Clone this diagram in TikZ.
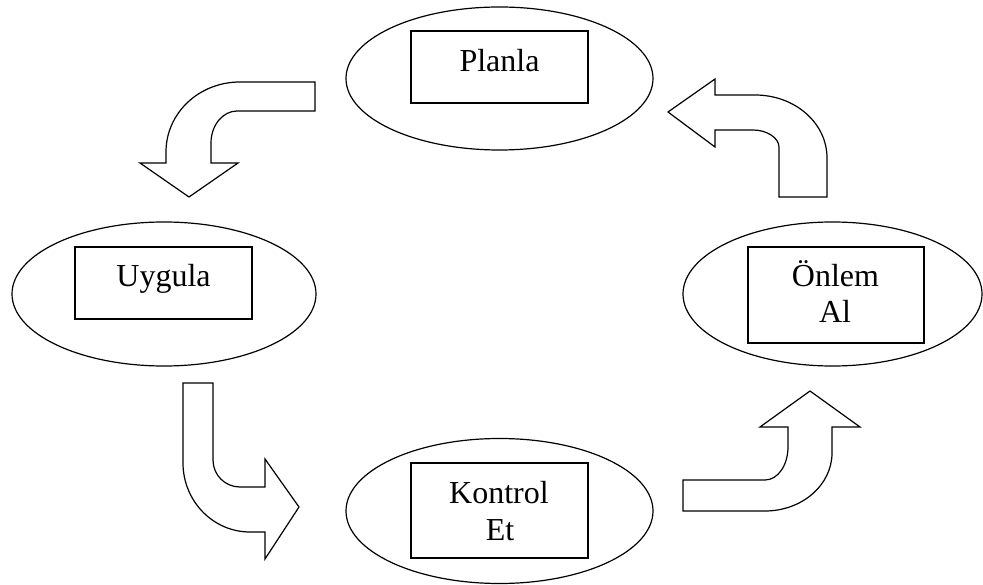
\documentclass[tikz,border=0pt]{standalone}
\usepackage{fontspec}
\setmainfont{Liberation Serif}
\usetikzlibrary{shapes.geometric}
\tikzset{
  oval/.style={draw, ellipse, line width=1.2pt, inner sep=0pt},
  box/.style={draw, rectangle, line width=1.2pt, inner sep=0pt},
  lbl/.style={anchor=base, inner sep=0pt, font=\fontsize{32}{36}\selectfont},
  bigarrow/.style={draw, fill=white, line width=1.2pt, line join=miter}
}
\begin{document}
\begin{tikzpicture}[x=1pt,y=-1pt]
\useasboundingbox (0,0) rectangle (983,585);
% ellipses
\node[oval, minimum width=307pt, minimum height=143pt] (eP) at (499.5,78.5) {};
\node[oval, minimum width=304pt, minimum height=144pt] (eU) at (164,294) {};
\node[oval, minimum width=299pt, minimum height=144pt] (eO) at (832.5,294) {};
\node[oval, minimum width=307pt, minimum height=145pt] (eK) at (499.5,511) {};
% boxes
\node[box, minimum width=177pt, minimum height=72pt] (bP) at (499.5,67) {};
\node[box, minimum width=177pt, minimum height=72pt] (bU) at (163.5,283) {};
\node[box, minimum width=176pt, minimum height=96pt] (bO) at (836,295) {};
\node[box, minimum width=177pt, minimum height=95pt] (bK) at (499.5,510.5) {};
% labels
\node[lbl] (tP) at (499.5,72) {Planla};
\node[lbl] (tU) at (163.5,287) {Uygula};
\node[lbl] (tO1) at (835.5,287) {Önlem};
\node[lbl] (tO2) at (835,323) {Al};
\node[lbl] (tK1) at (499,503) {Kontrol};
\node[lbl] (tK2) at (500,540) {Et};
% arrow 1: Planla -> Uygula
\draw[bigarrow] (315,82) -- (240,82) .. controls (199,82) and (166,113) .. (166,152)
  -- (166,163) -- (140,163) -- (189,197) -- (238,163) -- (211,163) -- (211,143)
  .. controls (211,125) and (223,111) .. (237,111) -- (315,111) -- cycle;
% arrow 2: Uygula -> Kontrol Et
\draw[bigarrow] (183,383) -- (213,383) -- (213,460) .. controls (213,475) and (225,487) .. (240,487)
  -- (265,487) -- (265,459) -- (299,507) -- (265,559) -- (265,532) -- (250,532)
  .. controls (213,532) and (183,501) .. (183,463) -- cycle;
% arrow 3: Onlem Al -> Planla
\draw[bigarrow] (668,112) -- (715,79) -- (715,95) -- (755,95) .. controls (795,95) and (827,123) .. (827,158)
  -- (827,197) -- (779,197) -- (779,147) .. controls (779,138) and (767,130) .. (753,130)
  -- (715,130) -- (715,147) -- cycle;
% arrow 4: Kontrol Et -> Onlem Al
\draw[bigarrow] (683,480) -- (765,480) .. controls (778,480) and (788,465) .. (788,447)
  -- (788,427) -- (760,427) -- (810,391) -- (860,427) -- (832,427) -- (832,453)
  .. controls (832,485) and (802,511) .. (765,511) -- (683,511) -- cycle;
\end{tikzpicture}
\end{document}
